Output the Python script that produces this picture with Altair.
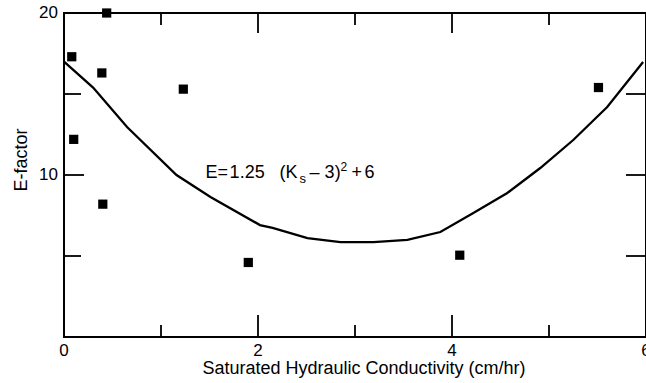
import altair as alt
import pandas as pd

# Observed data (squares)
ks_obs = [0.08, 0.44, 0.10, 0.39, 0.40, 1.23, 1.90, 4.08, 5.51]
e_obs = [17.3, 20.0, 12.2, 16.3, 8.2, 15.3, 4.6, 5.05, 15.4]

# Fitted curve as drawn
ks_fit = [0.0, 0.30, 0.65, 1.16, 1.51, 2.02, 2.15, 2.51, 2.85, 3.19, 3.54, 3.88, 4.22, 4.57, 4.91, 5.25, 5.60, 5.97]
e_fit = [17.0, 15.4, 12.96, 10.0, 8.64, 6.91, 6.73, 6.11, 5.86, 5.86, 5.99, 6.48, 7.65, 8.89, 10.43, 12.16, 14.2, 16.98]

x_labels = [0, 2, 4, 6]
y_labels = [10, 20]
x_major_ticks = [2, 4]
x_minor_ticks = [1, 3, 5]
y_major_ticks = [10]
y_minor_ticks = [5, 15]
right_ticks = [5, 10, 15]

x_title = ["Saturated Hydraulic Conductivity (cm/hr)"]
y_title = ["E-factor"]

eq_x = [1.46]
eq_y = [9.81]

W, H = 582, 324
FONT = "Liberation Sans"
XMAX, YMAX = 6.0, 20.0
PX_X = W / XMAX
PX_Y = H / YMAX

xs = alt.Scale(domain=[0, XMAX], nice=False, zero=False)
ys = alt.Scale(domain=[0, YMAX], nice=False, zero=False)

obs = pd.DataFrame({"ks": ks_obs, "e": e_obs})
fit = pd.DataFrame({"ks": ks_fit, "e": e_fit})

points = alt.Chart(obs).mark_square(size=85, color="black", opacity=1).encode(
    x=alt.X("ks:Q", scale=xs, axis=None),
    y=alt.Y("e:Q", scale=ys, axis=None),
)

curve = alt.Chart(fit).mark_line(color="black", strokeWidth=2.3).encode(
    x=alt.X("ks:Q", scale=xs, axis=None),
    y=alt.Y("e:Q", scale=ys, axis=None),
)

# Inward frame ticks, built from the tick value lists (lengths in pixels -> data units)
rows = []
def add_v(vals, top, length):
    for v in vals:
        tid = f"v{'t' if top else 'b'}{v}_{length}"
        y0 = YMAX if top else 0.0
        y1 = y0 - length / PX_Y if top else length / PX_Y
        rows.append({"id": tid, "k": 0, "x": v, "y": y0})
        rows.append({"id": tid, "k": 1, "x": v, "y": y1})

def add_h(vals, left, length):
    for v in vals:
        tid = f"h{'l' if left else 'r'}{v}_{length}"
        x0 = 0.0 if left else XMAX
        x1 = length / PX_X if left else XMAX - length / PX_X
        rows.append({"id": tid, "k": 0, "x": x0, "y": v})
        rows.append({"id": tid, "k": 1, "x": x1, "y": v})

add_v(x_major_ticks, True, 20)
add_v(x_minor_ticks, True, 12)
add_v(x_major_ticks, False, 22)
add_v(x_minor_ticks, False, 12)
add_h(y_major_ticks, True, 20)
add_h(y_minor_ticks, True, 17)
add_h(right_ticks, False, 20)
tick_df = pd.DataFrame(rows)

ticks = alt.Chart(tick_df).mark_line(color="black", strokeWidth=1.8).encode(
    x=alt.X("x:Q", scale=xs, axis=None),
    y=alt.Y("y:Q", scale=ys, axis=None),
    detail="id:N",
    order="k:Q",
)

# Axis labels and titles as text marks
xlab = alt.Chart(pd.DataFrame({"v": x_labels})).mark_text(
    fontSize=17, font=FONT, color="black", align="center", baseline="alphabetic").encode(
    x=alt.X("v:Q", scale=xs, axis=None), y=alt.value(H + 19), text=alt.Text("v:Q"))

ylab = alt.Chart(pd.DataFrame({"v": y_labels})).mark_text(
    fontSize=17, font=FONT, color="black", align="right", baseline="middle").encode(
    y=alt.Y("v:Q", scale=ys, axis=None), x=alt.value(-6), text=alt.Text("v:Q"))

xtitle = alt.Chart(pd.DataFrame({"t": x_title})).mark_text(
    fontSize=18, font=FONT, color="black", align="center", baseline="alphabetic").encode(
    x=alt.value(300), y=alt.value(361), text="t:N")

ytitle = alt.Chart(pd.DataFrame({"t": y_title})).mark_text(
    fontSize=18, font=FONT, color="black", align="center", baseline="alphabetic",
    angle=270).encode(
    x=alt.value(-37), y=alt.value(147), text="t:N")

eq_df = pd.DataFrame({"x": eq_x, "y": eq_y})
pieces = [
    ("E", 0, 0, 18),
    ("=", 12, 0, 18),
    ("1.25", 24, 0, 18),
    ("(K", 74, 0, 18),
    ("s", 94, 5, 13),
    ("–", 104, 0, 18),
    ("3)", 119, 0, 18),
    ("2", 135, -7, 12),
    ("+", 146, 0, 18),
    ("6", 159, 0, 18),
]
eq_layers = [
    alt.Chart(eq_df).mark_text(text=t, dx=dx, dy=dy, fontSize=fs, font=FONT, align="left",
                               baseline="alphabetic", color="black").encode(
        x=alt.X("x:Q", scale=xs, axis=None), y=alt.Y("y:Q", scale=ys, axis=None))
    for (t, dx, dy, fs) in pieces
]

chart = alt.layer(points, curve, ticks, xlab, ylab, xtitle, ytitle, *eq_layers).properties(
    width=W, height=H,
    autosize=alt.AutoSizeParams(type="none"),
    padding={"left": 64, "top": 13, "right": 0, "bottom": 46},
    background="white",
).configure(font=FONT).configure_view(stroke="black", strokeWidth=2)

chart.save("out.html", embed_options={"renderer": "svg", "actions": False})
